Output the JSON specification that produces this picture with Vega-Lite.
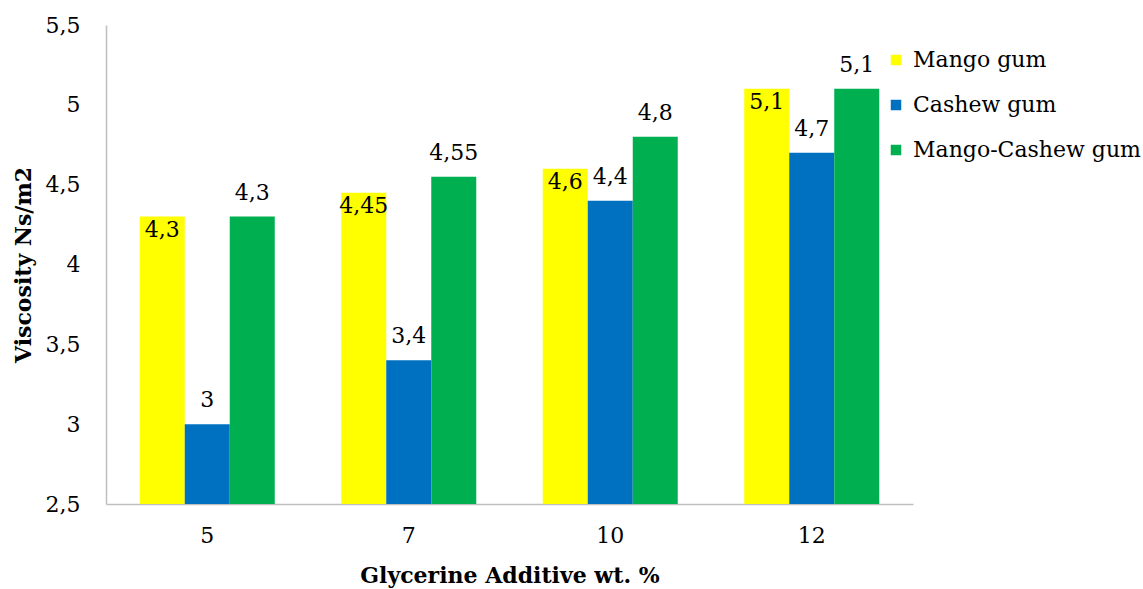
{
  "$schema": "https://vega.github.io/schema/vega-lite/v6.json",
  "width": 807,
  "height": 479,
  "autosize": {"type": "none"},
  "padding": {"left": 106, "top": 25, "right": 230, "bottom": 85},
  "background": "white",
  "config": {
    "locale": {"number": {"decimal": ",", "thousands": ".", "grouping": [3], "currency": ["", ""]}},
    "view": {"stroke": null},
    "font": "DejaVu Serif",
    "axis": {"domainColor": "#bfbfbf", "domainWidth": 1.5, "ticks": false, "grid": false, "labelColor": "#000000", "titleColor": "#000000", "labelFont": "DejaVu Serif", "titleFont": "DejaVu Serif"}
  },
  "data": {
    "values": [
      {"glycerine": "5", "series": "Mango gum", "viscosity": 4.3},
      {"glycerine": "5", "series": "Cashew gum", "viscosity": 3.0},
      {"glycerine": "5", "series": "Mango-Cashew gum", "viscosity": 4.3},
      {"glycerine": "7", "series": "Mango gum", "viscosity": 4.45},
      {"glycerine": "7", "series": "Cashew gum", "viscosity": 3.4},
      {"glycerine": "7", "series": "Mango-Cashew gum", "viscosity": 4.55},
      {"glycerine": "10", "series": "Mango gum", "viscosity": 4.6},
      {"glycerine": "10", "series": "Cashew gum", "viscosity": 4.4},
      {"glycerine": "10", "series": "Mango-Cashew gum", "viscosity": 4.8},
      {"glycerine": "12", "series": "Mango gum", "viscosity": 5.1},
      {"glycerine": "12", "series": "Cashew gum", "viscosity": 4.7},
      {"glycerine": "12", "series": "Mango-Cashew gum", "viscosity": 5.1}
    ]
  },
  "encoding": {
    "x": {
      "field": "glycerine",
      "type": "ordinal",
      "sort": ["5", "7", "10", "12"],
      "scale": {"paddingInner": 0.33, "paddingOuter": 0.1675},
      "axis": {
        "title": "Glycerine Additive wt. %",
        "labelAngle": 0,
        "labelFontSize": 22,
        "labelPadding": 21,
        "titleFontSize": 22,
        "titleFontWeight": "bold",
        "titlePadding": 19
      }
    },
    "xOffset": {
      "field": "series",
      "type": "nominal",
      "sort": ["Mango gum", "Cashew gum", "Mango-Cashew gum"]
    },
    "y": {
      "field": "viscosity",
      "type": "quantitative",
      "scale": {"domain": [2.5, 5.5], "nice": false, "zero": false},
      "axis": {
        "title": "Viscosity Ns/m2",
        "values": [2.5, 3, 3.5, 4, 4.5, 5, 5.5],
        "format": ".2~f",
        "labelFontSize": 22,
        "labelPadding": 26,
        "titleFontSize": 22,
        "titleFontWeight": "bold",
        "titlePadding": 10
      }
    }
  },
  "layer": [
    {
      "mark": {"type": "bar", "clip": true},
      "encoding": {
        "y2": {"datum": 2.5},
        "color": {
          "field": "series",
          "type": "nominal",
          "sort": ["Mango gum", "Cashew gum", "Mango-Cashew gum"],
          "scale": {"domain": ["Mango gum", "Cashew gum", "Mango-Cashew gum"], "range": ["#ffff00", "#0070c0", "#00b050"]},
          "legend": {
            "title": null,
            "orient": "none",
            "legendX": 779,
            "legendY": 24,
            "padding": 0,
            "symbolType": "square",
            "symbolSize": 110,
            "symbolStrokeWidth": 0,
            "labelFont": "DejaVu Serif",
            "labelFontSize": 22,
            "labelColor": "#000000",
            "labelLimit": 300,
            "labelOffset": 6,
            "rowPadding": 23
          }
        }
      }
    },
    {
      "transform": [{"filter": "datum.series === 'Mango gum'"}],
      "mark": {"type": "text", "baseline": "top", "dy": 3, "fontSize": 22, "color": "#000000"},
      "encoding": {"text": {"field": "viscosity", "type": "quantitative", "format": ".2~f"}}
    },
    {
      "transform": [{"filter": "datum.series !== 'Mango gum'"}],
      "mark": {"type": "text", "baseline": "bottom", "dy": -12, "fontSize": 22, "color": "#000000"},
      "encoding": {"text": {"field": "viscosity", "type": "quantitative", "format": ".2~f"}}
    }
  ]
}
